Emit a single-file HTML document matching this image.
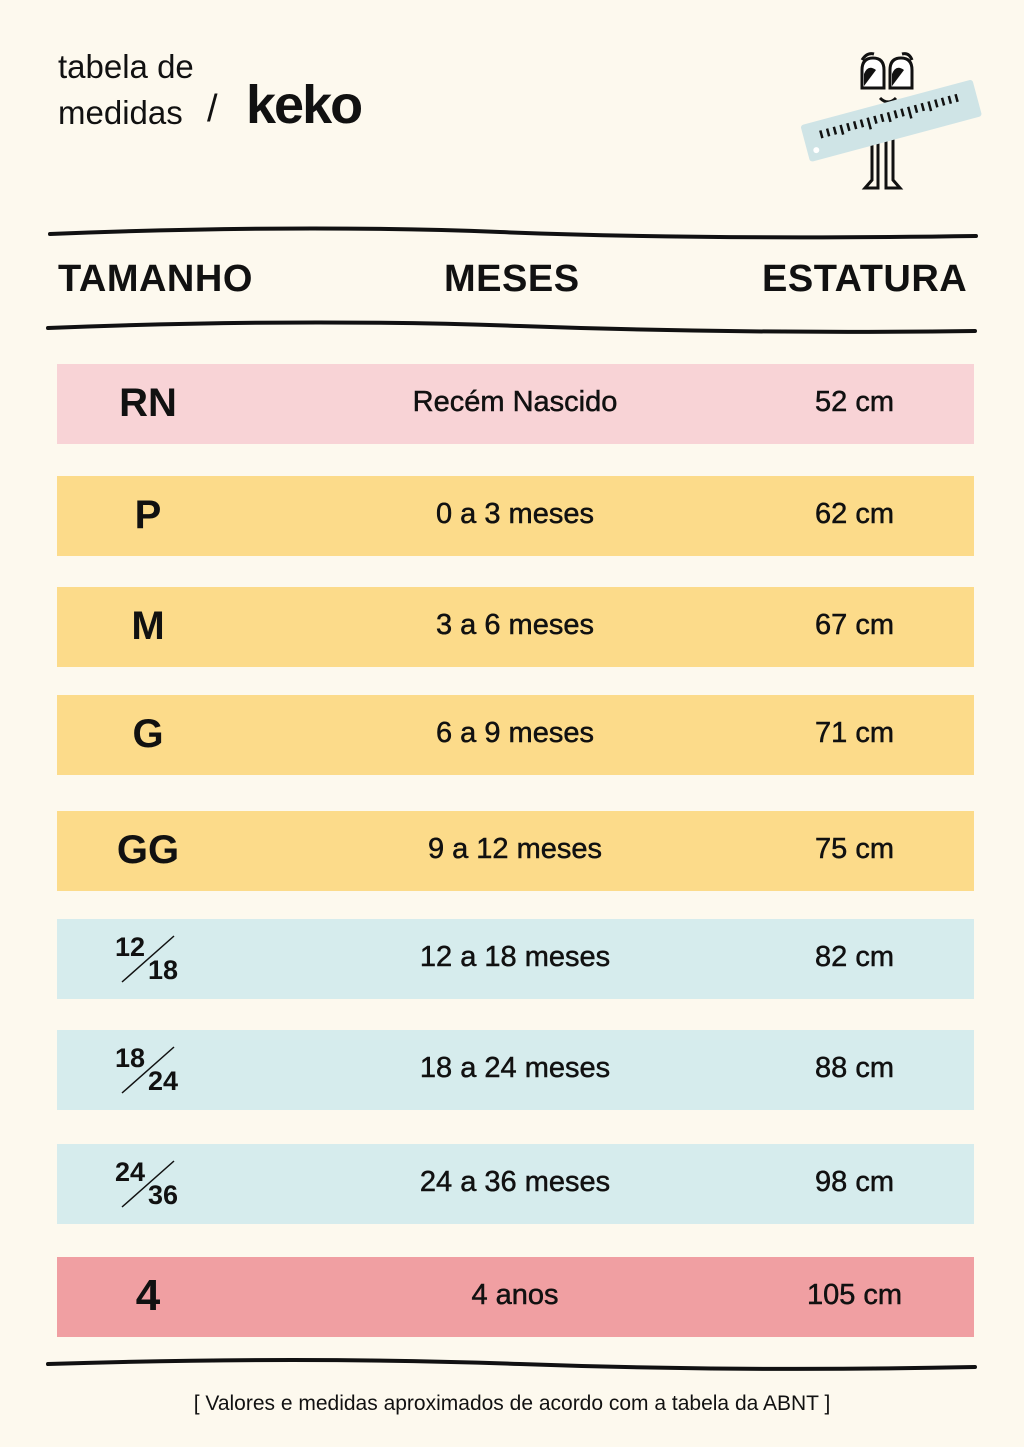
<!DOCTYPE html>
<html><head><meta charset="utf-8"><style>
body{margin:0;width:1024px;height:1447px;background:#fdf9ee;position:relative;overflow:hidden;font-family:"Liberation Sans","DejaVu Sans",sans-serif;color:#111}
.a{position:absolute}
.row{position:absolute;left:57px;width:917px;height:80px}
.sz{position:absolute;left:0;width:182px;text-align:center;font-weight:bold;font-size:40px;top:17px}
.m{position:absolute;left:258px;width:400px;text-align:center;font-size:29px;top:22px;-webkit-text-stroke:0.5px #111}
.e{position:absolute;left:730px;width:135px;text-align:center;font-size:29px;top:22px;-webkit-text-stroke:0.5px #111}
.fr{position:absolute;left:55px;top:10px;width:80px;height:60px;font-weight:bold;font-size:27px}
.fr .t{position:absolute;left:3px;top:3px}.fr .b{position:absolute;left:36px;top:26px}
.fr svg{position:absolute;left:0;top:0}
.h{top:258px;font-size:38px;font-weight:bold;letter-spacing:0.5px}
</style></head><body>
<div class="a" style="left:58px;top:44px;font-size:33px;line-height:46px">tabela de<br>medidas</div>
<div class="a" style="left:207px;top:88px;font-size:38px">/</div>
<div class="a" style="left:246px;top:74px;font-size:54px;font-weight:bold;letter-spacing:-2px">keko</div>
<svg class="a" style="left:790px;top:40px" width="200" height="160" viewBox="0 0 200 160">
<path d="M72 20 q5 -8 12 -6 M112 14 q7 -2 10 6" stroke="#111" stroke-width="3" fill="none"/>
<path d="M72 48 V30 q0 -12 11 -12 q11 0 11 12 V48 Z" fill="#fff" stroke="#111" stroke-width="3"/>
<path d="M100 48 V30 q0 -12 11 -12 q11 0 11 12 V48 Z" fill="#fff" stroke="#111" stroke-width="3"/>
<path d="M74 46 V34 q4 -10 12 -4 Z M102 46 V34 q4 -10 12 -4 Z" fill="#111"/>
<path d="M90 58 q8 8 16 0" stroke="#111" stroke-width="3" fill="none"/>
<path d="M82 90 V140 L75 148 H88 V90 M96 90 V148 H110 L103 140 V90" stroke="#111" stroke-width="3" fill="#fdf9ee"/>
<g transform="rotate(-15 100 80)"><rect x="12" y="62" width="178" height="38" rx="3" fill="#cfe4e6"/>
<g stroke="#111" stroke-width="2.5"><path d="M30 72v8M37 72v8M44 72v8M51 72v10M58 72v8M65 72v8M72 72v8M79 72v12M86 72v8M93 72v8M100 72v10M107 72v8M114 72v8M121 72v12M128 72v8M135 72v8M142 72v10M149 72v8M156 72v8M163 72v8M170 72v8"/></g>
<circle cx="21" cy="90" r="3" fill="#fff"/></g>
</svg>
<svg class="a" style="left:0;top:0" width="1024" height="1447">
<g stroke="#111" stroke-width="4" fill="none" stroke-linecap="round">
<path d="M50 234 Q300 224 500 232 T976 236"/>
<path d="M48 328 Q300 318 520 326 T975 331"/>
<path d="M48 1364 Q300 1356 520 1364 T975 1367"/>
</g></svg>
<div class="a h" style="left:58px">TAMANHO</div>
<div class="a h" style="left:444px">MESES</div>
<div class="a h" style="left:762px">ESTATURA</div>

<div class="row" style="top:364px;background:#f8d3d6"><div class="sz">RN</div><div class="m">Recém Nascido</div><div class="e">52 cm</div></div>
<div class="row" style="top:476px;background:#fcdb8a"><div class="sz">P</div><div class="m">0 a 3 meses</div><div class="e">62 cm</div></div>
<div class="row" style="top:587px;background:#fcdb8a"><div class="sz">M</div><div class="m">3 a 6 meses</div><div class="e">67 cm</div></div>
<div class="row" style="top:695px;background:#fcdb8a"><div class="sz">G</div><div class="m">6 a 9 meses</div><div class="e">71 cm</div></div>
<div class="row" style="top:811px;background:#fcdb8a"><div class="sz">GG</div><div class="m">9 a 12 meses</div><div class="e">75 cm</div></div>
<div class="row" style="top:919px;background:#d6eced"><div class="fr"><svg width="80" height="70"><line x1="10" y1="53" x2="62" y2="7" stroke="#111" stroke-width="1.5"/></svg><span class="t">12</span><span class="b">18</span></div><div class="m">12 a 18 meses</div><div class="e">82 cm</div></div>
<div class="row" style="top:1030px;background:#d6eced"><div class="fr"><svg width="80" height="70"><line x1="10" y1="53" x2="62" y2="7" stroke="#111" stroke-width="1.5"/></svg><span class="t">18</span><span class="b">24</span></div><div class="m">18 a 24 meses</div><div class="e">88 cm</div></div>
<div class="row" style="top:1144px;background:#d6eced"><div class="fr"><svg width="80" height="70"><line x1="10" y1="53" x2="62" y2="7" stroke="#111" stroke-width="1.5"/></svg><span class="t">24</span><span class="b">36</span></div><div class="m">24 a 36 meses</div><div class="e">98 cm</div></div>
<div class="row" style="top:1257px;background:#f09fa2"><div class="sz" style="font-size:44px;top:14px">4</div><div class="m">4 anos</div><div class="e">105 cm</div></div>

<div class="a" style="left:0;width:1024px;top:1392px;text-align:center;font-size:21px">[ Valores e medidas aproximados de acordo com a tabela da ABNT ]</div>
</body></html>
